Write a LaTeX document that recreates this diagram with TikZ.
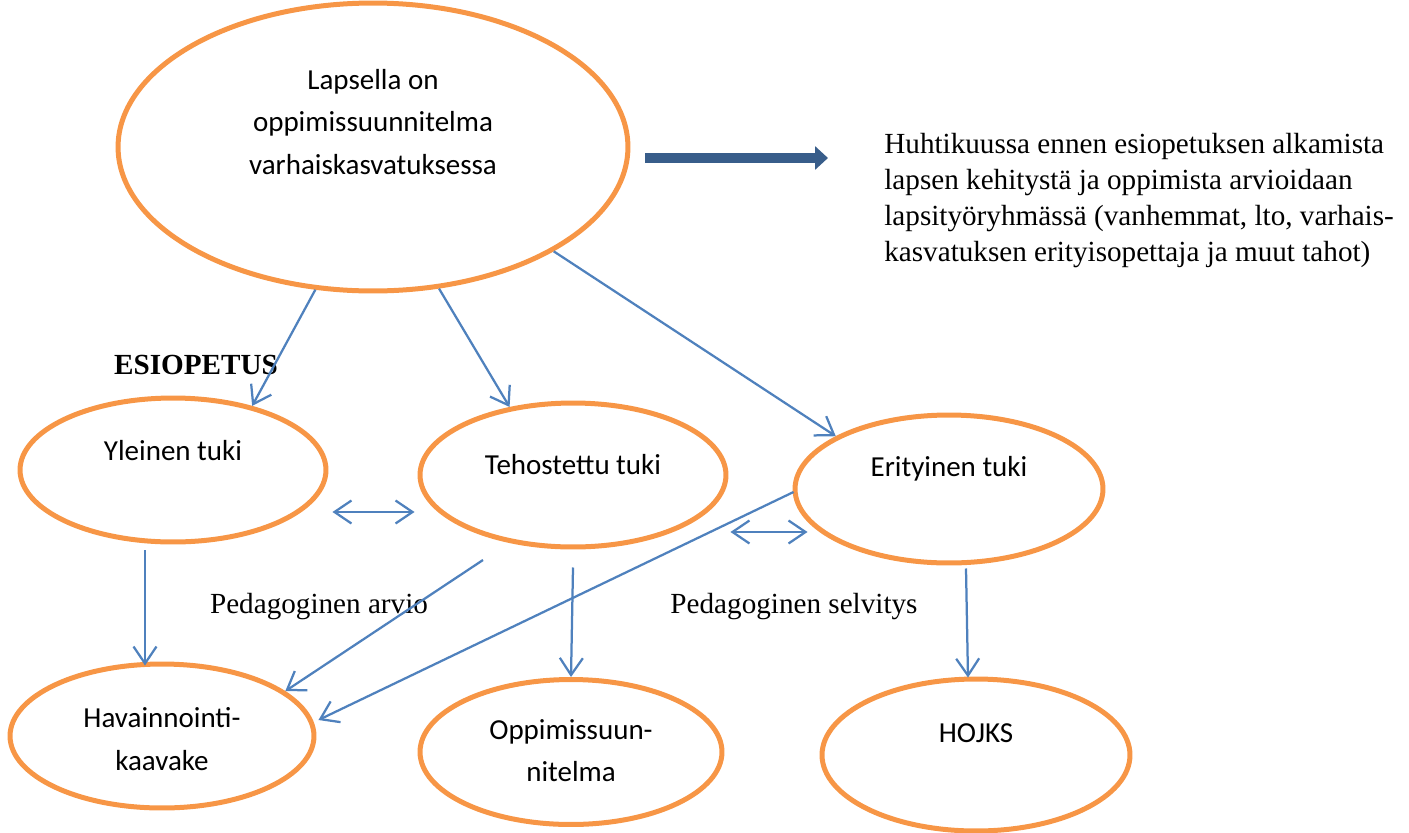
\documentclass[tikz,border=0pt]{standalone}
\usepackage{fontspec}
\setmainfont{Liberation Serif}
\newfontfamily\calibri{Carlito}
\usepackage{xcolor}
\usetikzlibrary{shapes.geometric,arrows.meta,calc}

\definecolor{bubbleorange}{HTML}{F79646}
\definecolor{linkblue}{HTML}{4F81BD}
\definecolor{bigblue}{HTML}{385D8A}

\tikzset{
  bubble/.style={ellipse, draw=bubbleorange, line width=0.1cm, inner sep=0pt},
  btxt/.style={font=\calibri\fontsize{16.5}{24}\selectfont, align=center, inner sep=0pt},
  note/.style={font=\fontsize{16.6}{20.5}\selectfont, inner sep=0pt},
  link/.style={draw=linkblue, line width=0.045cm, -{Straight Barb[length=0.34cm,width=0.46cm]}},
  dlink/.style={link, {Straight Barb[length=0.34cm,width=0.46cm]}-{Straight Barb[length=0.34cm,width=0.46cm]}},
}

\begin{document}
\begin{tikzpicture}[x=0.02cm, y=-0.02cm]
\useasboundingbox (0,0) rectangle (1409,832);

% ellipses
\node[bubble, minimum width=10.2cm, minimum height=5.76cm] (top) at (373,147) {};
\node[bubble, minimum width=6.12cm, minimum height=2.88cm] (yl) at (173,470) {};
\node[bubble, minimum width=6.12cm, minimum height=2.88cm] (teh) at (573,475) {};
\node[bubble, minimum width=6.16cm, minimum height=2.96cm] (eri) at (949,489) {};
\node[bubble, minimum width=6.08cm, minimum height=2.88cm] (hav) at (162,736) {};
\node[bubble, minimum width=6.04cm, minimum height=2.9cm] (opp) at (571,752) {};
\node[bubble, minimum width=6.16cm, minimum height=3.04cm] (hojks) at (976,755) {};

% ellipse texts
\node[btxt] (top-txt) at ($(top)+(0,-25)$) {Lapsella on\\oppimissuunnitelma\\varhaiskasvatuksessa};
\node[btxt] (yl-txt) at ($(yl)+(0,-19)$) {Yleinen tuki};
\node[btxt] (teh-txt) at ($(teh)+(0,-10)$) {Tehostettu tuki};
\node[btxt] (eri-txt) at ($(eri)+(0,-20)$) {Erityinen tuki};
\node[btxt] (hav-txt) at ($(hav)+(0,3)$) {Havainnointi-\\kaavake};
\node[btxt] (opp-txt) at ($(opp)+(0,-1)$) {Oppimissuun-\\nitelma};
\node[btxt] (hojks-txt) at ($(hojks)+(0,-22)$) {HOJKS};

% other texts
\node[note, anchor=north west, align=left] (plan) at (884,133)
  {Huhtikuussa ennen esiopetuksen alkamista\\lapsen kehitystä ja oppimista arvioidaan\\lapsityöryhmässä (vanhemmat, lto, varhais-\\kasvatuksen erityisopettaja ja muut tahot)};
\node[note, font=\fontsize{16.6}{20.5}\selectfont\bfseries] (eso) at (196,365) {ESIOPETUS};
\node[note] (arvio) at (319,607) {Pedagoginen arvio};
\node[note] (selv) at (794,607) {Pedagoginen selvitys};

% big arrow
\coordinate (go1) at (645,158);
\coordinate (go2) at (828,158);
\draw[bigblue, line width=0.2cm, -{Triangle[length=0.26cm,width=0.46cm]}] (go1) -- (go2);

% connectors
\draw[link] (top.-112) -- (yl.39);
\draw[link] (top.-65) -- (teh.133);
\draw[link] (top.-30) -- (eri.155);
\draw[dlink] ($(yl.east)+(4,42)$) -- ($(teh.west)+(-3,37)$);
\draw[dlink] ($(teh.east)+(2,57)$) -- ($(eri.west)+(15,43)$);
\draw[link] ($(yl.south)+(-28,6)$) -- ($(hav.north)+(-17,4)$);
\draw[link] ($(teh)+(-90,85)$) -- (hav.20);
\draw[link] ($(eri.west)+(1,3)$) -- ($(hav.east)+(2,-16)$);
\draw[link] ($(teh.south)+(0,18)$) -- (opp.north);
\draw[link] ($(eri.south)+(17,3)$) -- ($(hojks.north)+(-8,1)$);
\end{tikzpicture}
\end{document}
